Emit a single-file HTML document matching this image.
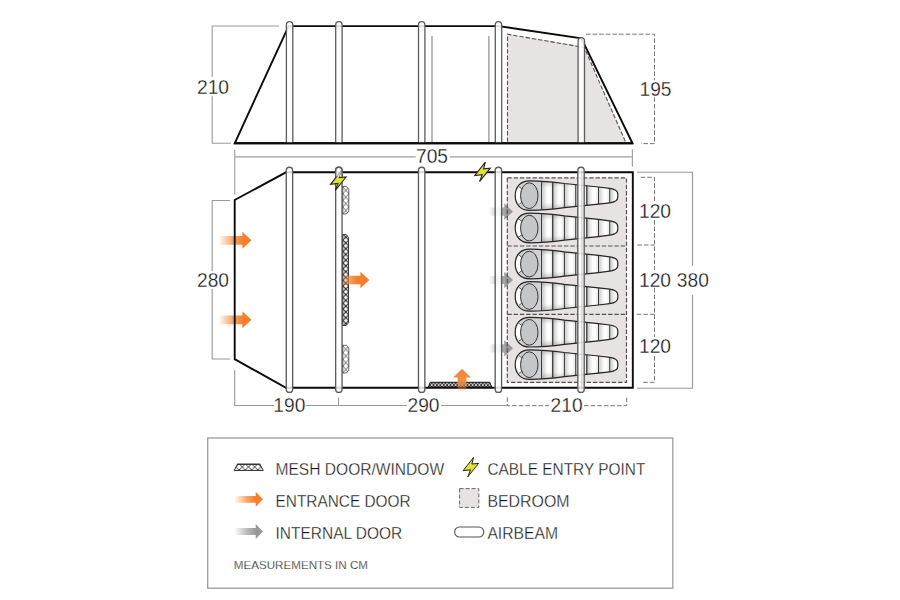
<!DOCTYPE html>
<html><head><meta charset="utf-8">
<style>
html,body{margin:0;padding:0;background:#fff;}
body{width:900px;height:600px;overflow:hidden;font-family:"Liberation Sans",sans-serif;}
svg{display:block;}
text{font-family:"Liberation Sans",sans-serif;fill:#141414;stroke:#fff;stroke-width:0.3px;}
</style></head><body>
<svg width="900" height="600" viewBox="0 0 900 600">
<defs>
  <linearGradient id="gOr" x1="0" x2="1" y1="0" y2="0">
    <stop offset="0" stop-color="#f5842f" stop-opacity="0"/>
    <stop offset="0.45" stop-color="#f5842f" stop-opacity="0.75"/>
    <stop offset="0.75" stop-color="#f47f2c" stop-opacity="1"/>
    <stop offset="1" stop-color="#f47f2c" stop-opacity="1"/>
  </linearGradient>
  <linearGradient id="gGr" x1="0" x2="1" y1="0" y2="0">
    <stop offset="0" stop-color="#9a9a9c" stop-opacity="0"/>
    <stop offset="0.45" stop-color="#9a9a9c" stop-opacity="0.7"/>
    <stop offset="0.75" stop-color="#98989a" stop-opacity="1"/>
    <stop offset="1" stop-color="#98989a" stop-opacity="1"/>
  </linearGradient>
  <!-- arrow pointing right, tip at (0,0), length 33 -->
  <path id="arrShape" d="M-33,-4.4 H-9 V-8.5 L0,0 L-9,8.5 V4.4 H-33 Z"/>
  <linearGradient id="gBag" x1="0" x2="0" y1="0" y2="1">
    <stop offset="0" stop-color="#a9a9ab"/>
    <stop offset="0.3" stop-color="#f4f4f4"/>
    <stop offset="0.55" stop-color="#ffffff"/>
    <stop offset="0.8" stop-color="#e4e4e5"/>
    <stop offset="1" stop-color="#a4a4a6"/>
  </linearGradient>
  <pattern id="mesh" width="6" height="5.75" patternUnits="userSpaceOnUse" patternTransform="translate(342.8,188.3)">
    <rect width="6" height="5.75" fill="#fff"/>
    <path d="M0,0 L6,5.75 M6,0 L0,5.75" stroke="#1e1e1e" stroke-width="1.1" fill="none"/>
  </pattern>
  <pattern id="meshS" width="3.4" height="4.4" patternUnits="userSpaceOnUse">
    <rect width="3.4" height="4.4" fill="#fff"/>
    <path d="M0,0 L3.4,4.4 M3.4,0 L0,4.4" stroke="#111" stroke-width="0.9" fill="none"/>
  </pattern>
  <!-- sleeping bag, head at left; origin = left-most point on center line -->
  <linearGradient id="gSeg" gradientUnits="userSpaceOnUse" x1="26.3" x2="37.65" y1="0" y2="0" spreadMethod="repeat">
    <stop offset="0" stop-color="#c6c6c8"/>
    <stop offset="0.5" stop-color="#fdfdfd"/>
    <stop offset="0.72" stop-color="#ffffff"/>
    <stop offset="1" stop-color="#e2e2e4"/>
  </linearGradient>
  <linearGradient id="gV" x1="0" x2="0" y1="0" y2="1">
    <stop offset="0" stop-color="#707072" stop-opacity="0.42"/>
    <stop offset="0.22" stop-color="#808082" stop-opacity="0"/>
    <stop offset="0.75" stop-color="#808082" stop-opacity="0"/>
    <stop offset="1" stop-color="#707072" stop-opacity="0.45"/>
  </linearGradient>
  <g id="bag">
    <path d="M0,0 C0,-9 5.5,-14.8 14.5,-14.8 C30,-14.8 40,-13.4 49.3,-12.1 L83.3,-8.6 L94.5,-7.2 C99,-6.6 102.6,-5.4 102.6,-1.6 V1.6 C102.6,5.4 99,6.6 94.5,7.2 L83.3,8.6 L49.3,12.1 C40,13.4 30,14.8 14.5,14.8 C5.5,14.8 0,9 0,0 Z" fill="url(#gSeg)"/>
    <path d="M0,0 C0,-9 5.5,-14.8 14.5,-14.8 C30,-14.8 40,-13.4 49.3,-12.1 L83.3,-8.6 L94.5,-7.2 C99,-6.6 102.6,-5.4 102.6,-1.6 V1.6 C102.6,5.4 99,6.6 94.5,7.2 L83.3,8.6 L49.3,12.1 C40,13.4 30,14.8 14.5,14.8 C5.5,14.8 0,9 0,0 Z" fill="url(#gV)"/>
    <path d="M14.5,-14.8 C5.5,-14.8 0,-9 0,0 C0,9 5.5,14.8 14.5,14.8 L26.3,14.3 L26.3,-14.3 Z" fill="#d2d2d4"/>
    <path d="M4,-8.7 C-0.6,-4 -0.6,4 4,8.7 L6.6,6.7 C4.8,3 4.8,-3 6.6,-6.7 Z" fill="#fff"/>
    <path d="M4,-8.7 L6.6,-6.7 M4,8.7 L6.6,6.7" stroke="#2a2a2a" stroke-width="0.8" fill="none"/>
    <ellipse cx="14.1" cy="0.1" rx="8.75" ry="12.9" fill="#c5c6c8" stroke="#2a2a2a" stroke-width="0.95"/>
    <path d="M26.3,-14.3 V14.3 M49.2,-12.1 V12.1 M60.5,-10.9 V10.9 M83.3,-8.6 V8.6 M94.5,-7.2 V7.2" stroke="#2a2a2a" stroke-width="0.9" fill="none"/>
    <path d="M37.5,-13.5 V13.5 M71.6,-9.8 V9.8" stroke="#444" stroke-width="1.4" fill="none"/>
    <path d="M0,0 C0,-9 5.5,-14.8 14.5,-14.8 C30,-14.8 40,-13.4 49.3,-12.1 L83.3,-8.6 L94.5,-7.2 C99,-6.6 102.6,-5.4 102.6,-1.6 V1.6 C102.6,5.4 99,6.6 94.5,7.2 L83.3,8.6 L49.3,12.1 C40,13.4 30,14.8 14.5,14.8 C5.5,14.8 0,9 0,0 Z" fill="none" stroke="#262626" stroke-width="1.2"/>
  </g>
  <path id="arrG" d="M-24,-4.1 H-8.8 V-8.3 L0,0 L-8.8,8.3 V4.1 H-24 Z"/>
  <linearGradient id="gOrU" x1="0" x2="1" y1="0" y2="0">
    <stop offset="0" stop-color="#f5842f" stop-opacity="0"/>
    <stop offset="0.4" stop-color="#f58a3c" stop-opacity="0.92"/>
    <stop offset="1" stop-color="#f47f2c" stop-opacity="1"/>
  </linearGradient>
  <linearGradient id="gOr2" x1="0" x2="1" y1="0" y2="0">
    <stop offset="0" stop-color="#f5842f" stop-opacity="0.1"/>
    <stop offset="0.3" stop-color="#f58a3c" stop-opacity="0.85"/>
    <stop offset="0.55" stop-color="#f47f2c" stop-opacity="1"/>
    <stop offset="1" stop-color="#f47f2c" stop-opacity="1"/>
  </linearGradient>
  <pattern id="meshB" width="6" height="6.7" patternUnits="userSpaceOnUse" patternTransform="translate(342.8,187)">
    <rect width="6" height="6.7" fill="#fff"/>
    <path d="M0,0 L6,6.7 M6,0 L0,6.7" stroke="#4a4a4a" stroke-width="0.8" fill="none"/>
  </pattern>
  <pattern id="meshC" href="#meshB" patternTransform="translate(342.8,345.9)"/>
  <path id="arrL" d="M-28.5,-3.4 H-7.2 V-7.5 L0,0 L-7.2,7.5 V3.4 H-28.5 Z"/>
  <pattern id="meshL" width="6.3" height="6" patternUnits="userSpaceOnUse" patternTransform="translate(232.7,463.9)">
    <rect width="6.3" height="6" fill="#fff"/>
    <path d="M0,0 L6.3,6 M6.3,0 L0,6" stroke="#2a2a2a" stroke-width="0.85" fill="none"/>
  </pattern>
  <path id="bolt" d="M2.6,-9.7 L-7.9,3.7 L-0.5,2.8 L-3.2,9.8 L7.6,-3.6 L0.9,-3.0 Z"/>
</defs>

<rect width="900" height="600" fill="#fff"/>

<!-- ============ SIDE ELEVATION ============ -->
<g id="elev">
  <!-- bedroom fill -->
  <path d="M507.5,34.2 L578,45.6 L584.7,50 L625.5,141.8 L507.5,141.8 Z" fill="#e6e3e2"/>
  <path d="M507.5,141.8 V34.2 L584.2,47.5 L625.5,141.8" fill="none" stroke="#555050" stroke-width="1.1" stroke-dasharray="4.4 1.9"/>
  <!-- dimension bracket left -->
  <path d="M279,26 H212.2 V77 M212.2,96.3 V143.3 H231" fill="none" stroke="#9c9c9c" stroke-width="1.1"/>
  <!-- dashed dim right -->
  <path d="M586,34.2 H654.5 V80.3 M654.5,97.3 V143.6 H641" fill="none" stroke="#777" stroke-width="1" stroke-dasharray="4.6 2"/>
  <!-- inner grey lines -->
  <path d="M432,36 V142 M488.9,36 V142" stroke="#8e8e8e" stroke-width="1.2" fill="none"/>
  <!-- outline -->
  <path d="M234.7,143.3 L288.6,26.1 H498.6 L581.4,38.3 L632.5,143.3 Z" fill="none" stroke="#0a0a0a" stroke-width="1.9" stroke-linejoin="miter"/>
  <!-- beams (over outline) -->
  <g fill="#fff" fill-opacity="0.86" stroke="#5c5c5c" stroke-width="1.3">
    <path d="M286.4,143.3 V24.8 a3.2,3.2 0 0 1 6.4,0 V143.3"/>
    <path d="M335.7,143.3 V24.8 a3.2,3.2 0 0 1 6.4,0 V143.3"/>
    <path d="M418.5,143.3 V24.8 a3.2,3.2 0 0 1 6.4,0 V143.3"/>
    <path d="M495.3,143.3 V24.8 a3.2,3.2 0 0 1 6.4,0 V143.3"/>
    <path d="M578.1,143.3 V40.9 a3.2,3.2 0 0 1 6.4,0 V143.3"/>
  </g>
  <!-- baseline on top -->
  <path d="M234.2,143.3 H633" stroke="#0a0a0a" stroke-width="1.9" fill="none"/>
</g>
<text x="213" y="93.7" font-size="20" text-anchor="middle" textLength="32" lengthAdjust="spacingAndGlyphs">210</text>
<text x="655.5" y="96" font-size="20" text-anchor="middle" textLength="32" lengthAdjust="spacingAndGlyphs">195</text>

<!-- width dimension -->
<path d="M234.75,194.4 V149.4 M234.75,156.8 H415.7 M450,156.8 H632.4 M632.4,149.2 V166.8" fill="none" stroke="#a0a0a0" stroke-width="1.15"/>
<text x="432" y="163" font-size="20" text-anchor="middle" textLength="32" lengthAdjust="spacingAndGlyphs">705</text>

<!-- ============ PLAN ============ -->
<g id="plan">
  <!-- bedroom -->
  <rect x="507.3" y="177.9" width="119.2" height="204.4" fill="#e6e3e2"/>
  <!-- bags -->
  <use href="#bag" x="515.2" y="195.6"/>
  <use href="#bag" x="515.2" y="228"/>
  <use href="#bag" x="515.2" y="264"/>
  <use href="#bag" x="515.2" y="296.4"/>
  <use href="#bag" x="515.2" y="332.2"/>
  <use href="#bag" x="515.2" y="364.6"/>

  <!-- entrance arrows (left) under wall -->
  <use href="#arrShape" x="251.4" y="240.3" fill="url(#gOr)"/>
  <use href="#arrShape" x="251.4" y="319.8" fill="url(#gOr)"/>

  <!-- internal door arrows -->
  <use href="#arrG" x="513" y="211.6" fill="url(#gGr)"/>
  <use href="#arrG" x="513" y="280" fill="url(#gGr)"/>
  <use href="#arrG" x="513" y="348.3" fill="url(#gGr)"/>

  <!-- bedroom dashes -->
  <rect x="507.3" y="177.9" width="119.2" height="204.4" fill="none" stroke="#555050" stroke-width="1.2" stroke-dasharray="4.4 1.9"/>
  <path d="M507.3,246 H626.5 M507.3,314.3 H626.5" stroke="#555050" stroke-width="1.2" stroke-dasharray="4.4 1.9" fill="none"/>

  <!-- outline -->
  <path d="M234.7,200 L286,172.3 H632.8 V387.8 H286 L234.7,359.2 Z" fill="none" stroke="#0a0a0a" stroke-width="1.9"/>

  <!-- bottom mesh -->
  <path d="M428.4,387 L430.2,382.3 H489.8 L491.6,387 Z" fill="url(#meshS)" stroke="#111" stroke-width="1"/>

  <!-- beams -->
  <g fill="#fff" fill-opacity="0.84" stroke="#5c5c5c" stroke-width="1.35">
    <rect x="286.25" y="167.2" width="6.4" height="225.2" rx="3.2"/>
    <rect x="335.65" y="167.2" width="6.4" height="225.2" rx="3.2"/>
    <rect x="418.45" y="167.2" width="6.4" height="225.2" rx="3.2"/>
    <rect x="495.2" y="167.2" width="6.4" height="225.2" rx="3.2"/>
    <rect x="577.8" y="167.2" width="6.4" height="225.2" rx="3.2"/>
  </g>
  <path d="M581.9,171 V389" stroke="#b5b5b5" stroke-width="0.8" fill="none"/>

  <!-- meshes on beam 2 -->
  <path d="M342.8,186.4 H346.4 L348.8,189.2 V211.2 L346.4,214 H342.8 Z" fill="url(#meshB)" stroke="#444" stroke-width="0.85"/>
  <path d="M342.8,234.5 H346.2 L348.5,237.3 V322.7 L346.2,325.5 H342.8 Z" fill="url(#mesh)" stroke="#2a2a2a" stroke-width="0.9"/>
  <path d="M342.8,345.3 H346.4 L348.8,348.1 V370.2 L346.4,373 H342.8 Z" fill="url(#meshC)" stroke="#444" stroke-width="0.85"/>

  <!-- arrow from beam 2 -->
  <g transform="translate(369.4,280)"><path d="M-27,-4.2 H-9 V-8.3 L0,0 L-9,8.3 V4.2 H-27 Z" fill="url(#gOr2)"/></g>
  <!-- up arrow -->
  <g transform="translate(462,369) rotate(-90)"><path d="M-23,-4.3 H-8.6 V-9 L0,0 L-8.6,9 V4.3 H-23 Z" fill="url(#gOrU)"/></g>

  <!-- lightning -->
  <use href="#bolt" x="338.5" y="180.6" fill="#e0e23a" stroke="#26261a" stroke-width="1.1" stroke-linejoin="miter"/>
  <clipPath id="cpB"><rect x="330" y="160" width="20" height="16.6"/></clipPath>
  <rect x="335.65" y="167.2" width="6.4" height="40" rx="3.2" fill="#fff" fill-opacity="0.6" stroke="#5c5c5c" stroke-width="1.35" clip-path="url(#cpB)"/>
  <use href="#bolt" x="482.7" y="171.8" fill="#e0e23a" stroke="#26261a" stroke-width="1.1" stroke-linejoin="miter"/>
</g>

<!-- plan dimensions -->
<path d="M230,200.5 H212.2 V271 M212.2,289 V359 H230" fill="none" stroke="#999" stroke-width="1.1"/>
<text x="213" y="286.7" font-size="20" text-anchor="middle" textLength="32" lengthAdjust="spacingAndGlyphs">280</text>
<path d="M234.7,370 V405.5 H274 M305.5,405.5 H407 M441,405.5 H507.3 M338.5,397.5 V405.5" fill="none" stroke="#999" stroke-width="1.1"/>
<path d="M507.3,397.3 V405.7 H549 M584,405.7 H626.7 V397.3" fill="none" stroke="#777" stroke-width="1" stroke-dasharray="4.6 2"/>
<text x="289.3" y="411.8" font-size="20" text-anchor="middle" textLength="32" lengthAdjust="spacingAndGlyphs">190</text>
<text x="423.5" y="411.8" font-size="20" text-anchor="middle" textLength="32" lengthAdjust="spacingAndGlyphs">290</text>
<text x="566.6" y="411.8" font-size="20" text-anchor="middle" textLength="32" lengthAdjust="spacingAndGlyphs">210</text>
<!-- right dims -->
<path d="M637,172.3 H692.5 V266 M692.5,295 V388.3 H637" fill="none" stroke="#999" stroke-width="1.1"/>
<path d="M640.6,177.3 H654.5 V201.5 M654.5,220 V270 M654.5,288 V337 M654.5,356 V382.3 H641.7 M637.3,245 H654.5 M636.7,314.3 H654.5" fill="none" stroke="#777" stroke-width="1" stroke-dasharray="4.6 2"/>
<text x="655" y="218" font-size="20" text-anchor="middle" textLength="32" lengthAdjust="spacingAndGlyphs">120</text>
<text x="655" y="286.8" font-size="20" text-anchor="middle" textLength="32" lengthAdjust="spacingAndGlyphs">120</text>
<text x="655" y="353.4" font-size="20" text-anchor="middle" textLength="32" lengthAdjust="spacingAndGlyphs">120</text>
<text x="692.8" y="286.8" font-size="20" text-anchor="middle" textLength="32" lengthAdjust="spacingAndGlyphs">380</text>

<!-- ============ LEGEND ============ -->
<rect x="207.7" y="438" width="465.1" height="150.2" fill="#fff" stroke="#9c9c9c" stroke-width="1.3"/>
<path d="M234.2,470.4 L237.4,464.3 H260 L263.2,470.4 Z" fill="url(#meshL)" stroke="#2a2a2a" stroke-width="1"/><path d="M237,464.3 H260.4" stroke="#333" stroke-width="1.3"/>
<use href="#arrL" x="262.9" y="499.3" fill="url(#gOr)"/>
<use href="#arrL" x="262.9" y="531.5" fill="url(#gGr)"/>
<text x="275.5" y="475.2" font-size="16.6" textLength="168.6" lengthAdjust="spacingAndGlyphs">MESH DOOR/WINDOW</text>
<text x="275.5" y="507.2" font-size="16.6" textLength="135.2" lengthAdjust="spacingAndGlyphs">ENTRANCE DOOR</text>
<text x="275.5" y="539" font-size="16.6" textLength="126.8" lengthAdjust="spacingAndGlyphs">INTERNAL DOOR</text>
<text x="233.8" y="568.9" font-size="11.8" style="stroke-width:0.25px" textLength="134.2" lengthAdjust="spacingAndGlyphs">MEASUREMENTS IN CM</text>

<use href="#bolt" x="471" y="467" fill="#e0e23a" stroke="#26261a" stroke-width="1" stroke-linejoin="miter"/>
<rect x="459.6" y="488.6" width="19.2" height="18.8" fill="#e6e3e2" stroke="#6a6565" stroke-width="1" stroke-dasharray="4 2"/>
<rect x="454.6" y="527" width="29.2" height="10" rx="5" fill="#fff" stroke="#555" stroke-width="1.1"/>
<text x="487.4" y="475.2" font-size="16.6" textLength="158" lengthAdjust="spacingAndGlyphs">CABLE ENTRY POINT</text>
<text x="487.4" y="507.2" font-size="16.6" textLength="82.2" lengthAdjust="spacingAndGlyphs">BEDROOM</text>
<text x="487.4" y="539" font-size="16.6" textLength="70.6" lengthAdjust="spacingAndGlyphs">AIRBEAM</text>
</svg>
</body></html>
